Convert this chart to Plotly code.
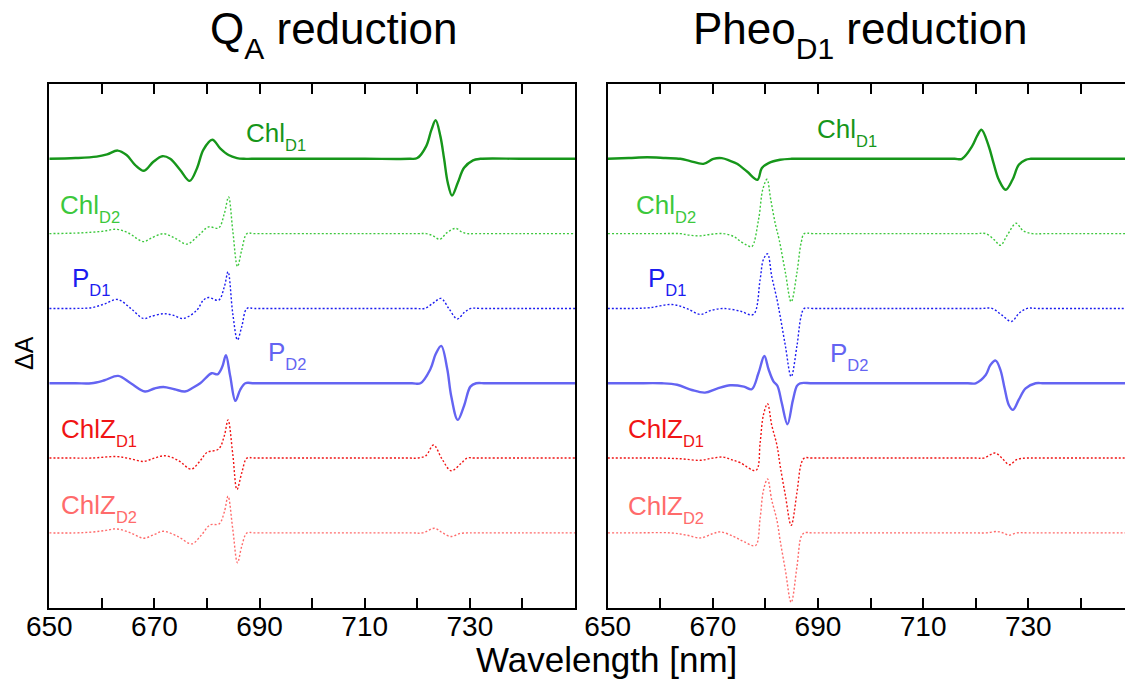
import plotly.graph_objects as go

# ---------------- spectra: Q_A reduction (left panel) ----------------
qa_chl_d1_wl = [650, 655, 659, 661, 663, 664.7, 666.3, 668, 669.8, 671.5, 673, 674.9, 676.7, 678.1, 679.3,
                681, 682.5, 684.1, 685.7, 687, 688.5, 700, 710, 718.5, 720, 721.7, 722.7, 723.5, 724.4,
                725.1, 725.8, 726.6, 727.7, 728.9, 730.6, 732, 740, 750]
qa_chl_d1_da = [0, 0.01, 0.03, 0.06, 0.11, 0.05, -0.08, -0.16, -0.04, 0.035, 0.0, -0.15, -0.295, -0.125, 0.12,
                0.255, 0.14, 0.05, 0.01, 0, 0, 0, 0, 0, 0.01, 0.17, 0.39, 0.515, 0.30,
                0.0, -0.32, -0.49, -0.32, -0.12, -0.02, 0, 0, 0]

qa_chl_d2_wl = [650, 656, 660, 662.8, 665, 667.9, 669.2, 671.7, 673.9, 676.2, 678.3, 680.3, 682.2, 683.3, 684.1,
                684.9, 685.8, 686.6, 687.6, 689, 700, 710, 720, 721.7, 723, 724.3, 725.6, 727.3, 728.5, 729.5,
                731, 740, 750]
qa_chl_d2_da = [0, 0.01, 0.03, 0.058, 0.01, -0.107, -0.067, 0.0, -0.06, -0.14, -0.03, 0.09, 0.075, 0.27, 0.49,
                0.04, -0.44, -0.22, 0, 0, 0, 0, 0, 0, -0.03, -0.076, 0.01, 0.07, 0.02, 0,
                0, 0, 0]

qa_p_d1_wl = [650, 655, 658, 660.5, 663, 665.5, 667.9, 669.2, 671.7, 673.5, 675.5, 678.1, 679.3, 680.3, 682.2,
              683.3, 684.0, 684.9, 685.8, 686.6, 687.6, 689, 700, 710, 719.5, 721.4, 723, 724.5, 726, 727.6,
              729, 730.2, 732, 740, 750]
qa_p_d1_da = [0, 0, 0.01, 0.06, 0.12, 0.0, -0.134, -0.11, -0.07, -0.09, -0.134, -0.02, 0.11, 0.147, 0.11,
              0.29, 0.49, -0.07, -0.42, -0.245, 0, 0, 0, 0, 0, 0, 0.07, 0.134, 0.0, -0.14,
              -0.05, 0, 0, 0, 0]

qa_p_d2_wl = [650, 655, 658, 660.5, 663.1, 665.5, 668.2, 670, 671.7, 673.8, 675.8, 677.3, 678.7, 680.9, 682,
              682.9, 683.6, 684.4, 685.4, 686.3, 687.3, 689, 700, 710, 719, 720.6, 722.5, 723.5, 724.55,
              725.7, 726.45, 727.7, 728.9, 730.1, 731.2, 733, 740, 750]
qa_p_d2_da = [0, 0, 0, 0.04, 0.098, 0.0, -0.11, -0.07, -0.05, -0.08, -0.11, -0.06, 0.0, 0.134, 0.12,
              0.22, 0.374, 0.1, -0.236, -0.09, 0, 0, 0, 0, 0, 0, 0.19, 0.39, 0.50,
              0.19, -0.17, -0.49, -0.30, -0.045, 0, 0, 0, 0]

qa_chlz_d1_wl = [650, 655, 658, 662.8, 665.5, 667.9, 670, 672, 674.5, 677, 678.7, 680, 682.2, 683.3, 684.0,
                 684.9, 685.7, 686.6, 687.6, 689, 700, 710, 718.5, 720, 721.6, 723.1, 724.7, 726.45, 728.2,
                 729.5, 731, 740, 750]
qa_chlz_d1_da = [0, 0, 0, 0.02, -0.01, -0.045, 0.0, 0.031, -0.03, -0.147, -0.036, 0.076, 0.12, 0.3, 0.51,
                 0.05, -0.42, -0.2, 0, 0, 0, 0, 0, 0, 0.03, 0.174, -0.013, -0.17, -0.08,
                 0, 0, 0, 0]

qa_chlz_d2_wl = [650, 655, 658, 660.5, 662.8, 665.5, 667.9, 670, 671.7, 674.5, 677.1, 678.8, 680.6, 682.3, 683.3,
                 684.0, 684.9, 685.8, 686.6, 687.6, 689, 700, 710, 719, 721, 723.3, 724.8, 726.4, 728, 729.5,
                 731, 740, 750]
qa_chlz_d2_da = [0, 0, 0.01, 0.03, 0.053, 0.0, -0.071, -0.02, 0.022, -0.05, -0.147, -0.04, 0.107, 0.12, 0.28,
                 0.49, 0.05, -0.40, -0.18, 0, 0, 0, 0, 0, 0, 0.062, 0.0, -0.049, -0.01, 0,
                 0, 0, 0]

# ---------------- spectra: Pheo_D1 reduction (right panel) ----------------
ph_chl_d1_wl = [650, 654, 657.5, 661, 663.8, 665.7, 668.2, 670.1, 671.7, 673.3, 674.6, 676.5, 678.5, 679.3, 680.6,
                682.8, 685, 690, 700, 710, 716, 717.4, 719.3, 720.3, 721.1, 722.5, 723.4, 724.4, 725.7, 727,
                728.2, 729.5, 730.5, 733, 740, 750]
ph_chl_d1_da = [0, 0.01, 0.02, 0.01, 0.0, -0.03, -0.067, 0.0, 0.01, -0.027, -0.067, -0.17, -0.28, -0.125, -0.058,
                -0.013, 0, 0, 0, 0, 0, 0, 0.165, 0.31, 0.388, 0.165, -0.058, -0.28, -0.414, -0.28,
                -0.08, -0.013, 0, 0, 0, 0]

ph_chl_d2_wl = [650, 660, 663.8, 665.5, 667.6, 669.5, 672, 674, 675.2, 676.5, 677.4, 678.7, 679.5, 680.3, 681.0,
                681.9, 682.6, 683.8, 684.9, 686.0, 686.8, 687.4, 689, 700, 710, 720, 721.9, 723.5, 724.7, 726,
                727.7, 729, 730.8, 733, 740, 750]
ph_chl_d2_da = [0, 0, 0.0, -0.02, -0.03, -0.01, 0.0, -0.04, -0.1, -0.155, -0.175, 0.19, 0.59, 0.726, 0.46,
                0.125, -0.076, -0.52, -0.913, -0.52, -0.12, 0, 0, 0, 0, 0, 0, -0.08, -0.156, -0.02,
                0.138, 0.04, 0, 0, 0, 0]

ph_p_d1_wl = [650, 655, 658, 662.2, 665, 667.6, 669.5, 672, 675.2, 677.7, 679.0, 679.6, 680.4, 681.2, 682.2,
              682.8, 683.8, 684.9, 686.0, 686.8, 687.4, 689, 700, 710, 721, 723.1, 725, 726.8, 728.3, 729.8,
              732, 740, 750]
ph_p_d1_da = [0, 0, 0.01, 0.053, 0.0, -0.08, -0.03, 0.0, -0.036, -0.08, 0.39, 0.65, 0.73, 0.43, 0.12,
              -0.1, -0.5, -0.913, -0.5, -0.1, 0, 0, 0, 0, 0, 0, -0.09, -0.174, -0.06, 0,
              0, 0, 0]

ph_p_d2_wl = [650, 655, 660.3, 663.2, 666, 668.5, 670.8, 673.3, 675.9, 677.4, 678.7, 679.8, 680.6, 681.5, 682.3,
              683.1, 684.2, 685.2, 686.0, 686.6, 689, 700, 710, 718.5, 720, 721.9, 722.8, 723.8, 724.7, 725.5,
              726.3, 727.1, 728.2, 729.5, 731.4, 733, 740, 750]
ph_p_d2_da = [0, 0, 0, -0.02, -0.09, -0.125, -0.071, -0.027, -0.045, -0.08, 0.14, 0.365, 0.187, 0.03, -0.036,
              -0.26, -0.548, -0.236, -0.036, 0, 0, 0, 0, 0, 0, 0.11, 0.245, 0.303, 0.18, -0.067,
              -0.29, -0.356, -0.22, -0.067, 0, 0, 0, 0]

ph_chlz_d1_wl = [650, 655, 660, 664, 667.6, 670, 672, 673.5, 675.2, 678.2, 679.0, 679.6, 680.4, 681.2, 682.2,
                 682.8, 683.8, 684.9, 686.0, 686.8, 687.4, 689, 700, 710, 720, 721.5, 723.7, 725, 726.4, 727.8,
                 729.5, 732, 740, 750]
ph_chlz_d1_da = [0, 0, 0, -0.01, -0.03, 0.0, 0.013, -0.02, -0.062, -0.165, 0.21, 0.57, 0.726, 0.44, 0.17,
                 -0.1, -0.5, -0.9, -0.46, -0.076, 0, 0, 0, 0, 0, 0, 0.067, 0.0, -0.09, -0.02,
                 0, 0, 0, 0]

ph_chlz_d2_wl = [650, 655, 662, 665, 667.7, 670, 671.5, 674, 676, 678.1, 679.0, 679.6, 680.4, 681.2, 682.2,
                 682.8, 683.8, 684.9, 686.0, 686.8, 687.4, 689, 700, 710, 720, 722, 724.1, 725.2, 726.3, 727.8,
                 730, 740, 750]
ph_chlz_d2_da = [0, 0, 0.0, -0.03, -0.067, -0.01, 0.013, -0.05, -0.12, -0.17, 0.2, 0.56, 0.72, 0.44, 0.165,
                 -0.1, -0.5, -0.93, -0.45, -0.05, 0, 0, 0, 0, 0, 0, 0.018, 0.0, -0.031, 0,
                 0, 0, 0]

# vertical offsets of the stacked traces (top to bottom)
pigments = ["ChlD1", "ChlD2", "PD1", "PD2", "ChlZD1", "ChlZD2"]
offsets = [0, -1, -2, -3, -4, -5]

# tick labels on the wavelength axis
tick_values = [650, 660, 670, 680, 690, 700, 710, 720, 730, 740, 750]
tick_labels = ["650", "", "670", "", "690", "", "710", "", "730", "", ""]

qa_series = [
    (qa_chl_d1_wl, qa_chl_d1_da), (qa_chl_d2_wl, qa_chl_d2_da), (qa_p_d1_wl, qa_p_d1_da),
    (qa_p_d2_wl, qa_p_d2_da), (qa_chlz_d1_wl, qa_chlz_d1_da), (qa_chlz_d2_wl, qa_chlz_d2_da),
]
ph_series = [
    (ph_chl_d1_wl, ph_chl_d1_da), (ph_chl_d2_wl, ph_chl_d2_da), (ph_p_d1_wl, ph_p_d1_da),
    (ph_p_d2_wl, ph_p_d2_da), (ph_chlz_d1_wl, ph_chlz_d1_da), (ph_chlz_d2_wl, ph_chlz_d2_da),
]

# ---------------- styles ----------------
styles = {
    "ChlD1": dict(color="#16961a", width=2.4, dash="solid"),
    "ChlD2": dict(color="#3cc83c", width=1.4, dash="2px,2px"),
    "PD1": dict(color="#1c1cf0", width=1.4, dash="2px,2px"),
    "PD2": dict(color="#6464f2", width=2.4, dash="solid"),
    "ChlZD1": dict(color="#f01414", width=1.4, dash="2px,2px"),
    "ChlZD2": dict(color="#ff6b6b", width=1.4, dash="2px,2px"),
}
label_parts = {
    "ChlD1": ("Chl", "D1"), "ChlD2": ("Chl", "D2"), "PD1": ("P", "D1"),
    "PD2": ("P", "D2"), "ChlZD1": ("ChlZ", "D1"), "ChlZD2": ("ChlZ", "D2"),
}

W, H = 1125, 683
FONT = "Liberation Sans, Arial, Helvetica, sans-serif"
PX_PER_NM = (575.0 - 49.3) / 100.0

fig = go.Figure()

for (wl, da), name, off in zip(qa_series, pigments, offsets):
    st = styles[name]
    fig.add_trace(go.Scatter(
        x=wl, y=[v + off for v in da], mode="lines", xaxis="x", yaxis="y",
        line=dict(color=st["color"], width=st["width"], dash=st["dash"], shape="spline", smoothing=1.0),
        showlegend=False, hoverinfo="skip"))

for (wl, da), name, off in zip(ph_series, pigments, offsets):
    st = styles[name]
    fig.add_trace(go.Scatter(
        x=wl, y=[v + off for v in da], mode="lines", xaxis="x2", yaxis="y2",
        line=dict(color=st["color"], width=st["width"], dash=st["dash"], shape="spline", smoothing=1.0),
        showlegend=False, hoverinfo="skip"))

y_dom = [1 - 607.7 / H, 1 - 84.0 / H]
x_common = dict(
    tickvals=tick_values, ticktext=tick_labels, ticks="inside", ticklen=10, tickwidth=1.6,
    tickcolor="black", showline=True, linecolor="black", linewidth=2, mirror="ticks",
    showgrid=False, zeroline=False, tickfont=dict(family=FONT, size=28, color="black"),
    ticklabelstandoff=-7, automargin=False,
)
y_common = dict(
    range=[-6, 1], showticklabels=False, ticks="", showgrid=False, zeroline=False,
    showline=True, linecolor="black", linewidth=2, domain=y_dom, automargin=False,
)

right_end = 650 + (W - 607.7) / PX_PER_NM

fig.update_layout(
    width=W, height=H, autosize=False,
    margin=dict(l=0, r=0, t=0, b=0, pad=0, autoexpand=False),
    paper_bgcolor="white", plot_bgcolor="white",
    xaxis=dict(domain=[49.3 / W, 575.0 / W], range=[650, 750], anchor="y", **x_common),
    xaxis2=dict(domain=[607.7 / W, 1.0], range=[650, right_end], anchor="y2", **x_common),
    yaxis=dict(anchor="x", mirror=True, **y_common),
    yaxis2=dict(anchor="x2", mirror=False, **y_common),
)


def px_x(px):
    return px / W


def px_y(py):
    return 1 - py / H


def sub_html(main, sub, size, shift):
    return f"{main}<span style='font-size:{size}px;baseline-shift:-{shift}px'>{sub}</span>"


annotations = []

# panel titles
annotations.append(dict(text=sub_html("Q", "A", 30, 15) + " reduction", x=px_x(208), y=px_y(34),
                        font=dict(family=FONT, size=44, color="black")))
annotations.append(dict(text=sub_html("Pheo", "D1", 30, 15) + " reduction", x=px_x(691), y=px_y(34),
                        font=dict(family=FONT, size=44, color="black")))

# axis titles
annotations.append(dict(text="Wavelength [nm]", x=px_x(606), y=px_y(659), xanchor="center",
                        font=dict(family=FONT, size=35, color="black")))
annotations.append(dict(text="ΔA", x=px_x(24), y=px_y(353), xanchor="center", textangle=-90,
                        font=dict(family=FONT, size=25, color="black")))

# trace labels: (pigment, left edge px, baseline px)
label_spots_qa = [("ChlD1", 246.6, 145), ("ChlD2", 60.7, 216.7), ("PD1", 72.7, 290),
                  ("PD2", 268, 364), ("ChlZD1", 61.7, 440.7), ("ChlZD2", 61.7, 517.3)]
label_spots_ph = [("ChlD1", 817.6, 140.7), ("ChlD2", 636.8, 216.7), ("PD1", 648.5, 290),
                  ("PD2", 830.3, 365), ("ChlZD1", 628.5, 441), ("ChlZD2", 628.5, 517.7)]

for name, lx, base in label_spots_qa + label_spots_ph:
    main, sub = label_parts[name]
    annotations.append(dict(text=sub_html(main, sub, 16.5, 9), x=px_x(lx - 2.5), y=px_y(base - 9),
                            font=dict(family=FONT, size=26, color=styles[name]["color"])))

for a in annotations:
    a.setdefault("xanchor", "left")
    a.setdefault("yanchor", "middle")
    a.update(xref="paper", yref="paper", showarrow=False)

fig.update_layout(annotations=annotations)

fig.write_html("out.html")
